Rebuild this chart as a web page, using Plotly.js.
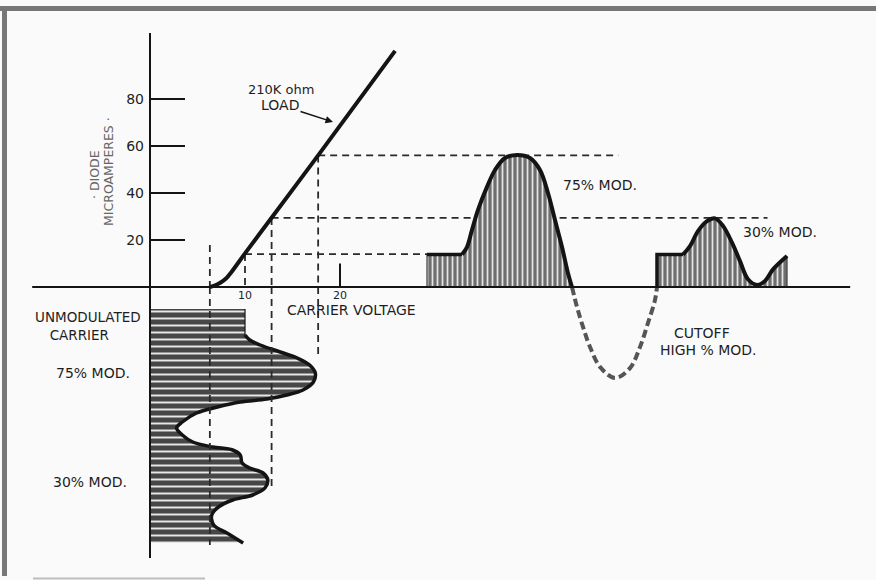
<!DOCTYPE html>
<html><head><meta charset="utf-8">
<script src="https://cdn.plot.ly/plotly-3.0.1.min.js"></script>
<style>html,body{margin:0;padding:0;background:#fafafa}</style>
</head><body><div id="chart" style="width:876px;height:580px"></div>
<script>
// ---------- DATA ----------
// Diode characteristic, 210K ohm load: carrier voltage (V) vs diode microamperes
const loadV = [6.3, 6.8, 7.4, 8.0, 8.6, 10, 12.8, 17.7, 25.8];
const loadI = [0, 0.6, 1.8, 3.6, 6.5, 14.3, 29.5, 56, 100.5];

// Projection (dashed) lines: carrier level, 30% peak, 75% peak
const projV = [10, 12.8, 17.7];
const projI = [14, 29.4, 56];
const projEndV = [29.2, 65.0, 49.3];
// Vertical dashed drops: cutoff, carrier, 30% peak, 75% peak
const dropV = [6.3, 10, 12.8, 17.7];
const dropTopI = [17.9, 14, 29.4, 56];
const dropEndTau = [47.2, null, 36.2, 9.6];

// Rectified output, 75% modulation (time t, microamperes)
const wave75T = [0, 0, 7, 8, 9, 10.2, 12, 13.6, 15.6, 18, 20.6, 22.6, 24.2, 25.6, 27, 28.2, 29];
const wave75I = [0, 13.8, 13.8, 17, 24.3, 32.8, 42.6, 49.8, 54.9, 56.2, 54.9, 49.8, 40, 28.5, 17, 5.9, 0];
// Cut-off (dashed) negative swing at high % modulation
const negT = [29, 30, 31.2, 32.6, 34.6, 37.6, 40.6, 42.6, 44.2, 45.6, 46];
const negI = [0, -8.5, -17, -25.5, -34, -38.7, -34.5, -25.5, -15.3, -5.5, 0];
// Rectified output, 30% modulation
const wave30T = [46, 46, 51.2, 52.6, 54.2, 56, 57.6, 59.2, 61, 62.6, 64.2, 66, 67.6, 69.2, 72, 72];
const wave30I = [0, 13.8, 13.8, 17.4, 23.8, 28, 29.2, 26, 18.9, 11, 3.3, 0.9, 2.6, 7.5, 13.2, 0];

// Carrier envelope (time tau downward, carrier volts)
const envTau = [0, 5.2, 6.2, 7.2, 8.6, 9.8, 11.2, 12.8, 14.6, 16.2, 17.2, 18, 18.6, 19.6, 20.8, 22.6, 23.8, 25.2, 26.6, 27.6, 28.2, 29.2, 30.8, 31.8, 32.8, 34.2, 35.8, 37.2, 38.2, 39.6, 41.2, 43.2, 44.8, 46.8];
const envV = [10, 10, 10.5, 11.6, 13.7, 15.5, 16.8, 17.4, 17.2, 16.1, 14.4, 12.3, 9.5, 7.1, 4.9, 3.4, 2.8, 3.4, 4.5, 6.6, 8.7, 9.5, 9.7, 10.5, 11.9, 12.4, 12.1, 10.8, 8.7, 7.2, 6.5, 6.7, 8.1, 9.8];

const yTicks = [20, 40, 60, 80];
const yTickText = ['20', '40', '60', '80'];
const xTicks = [10, 20];
const xTickText = ['10', '20'];

// ---------- LAYOUT GEOMETRY ----------
const W = 876, H = 580;
const ORIGIN_X = 150, PX_PER_VOLT = 9.5;
const ORIGIN_Y = 287, PX_PER_UA = 2.35;
const WAVE_T0_X = 427, PX_PER_T = 5;
const ENV_TAU0_Y = 309, PX_PER_TAU = 5;

const vRange = [-ORIGIN_X / PX_PER_VOLT, (W - ORIGIN_X) / PX_PER_VOLT];
const iRange = [-(H - ORIGIN_Y) / PX_PER_UA, ORIGIN_Y / PX_PER_UA];
const tRange = [-WAVE_T0_X / PX_PER_T, (W - WAVE_T0_X) / PX_PER_T];
const tauRange = [(H - ENV_TAU0_Y) / PX_PER_TAU, -ENV_TAU0_Y / PX_PER_TAU];
const tauAtAxis = (ORIGIN_Y - ENV_TAU0_Y) / PX_PER_TAU;

const px = x => x / W;
const py = y => 1 - y / H;
const INK = '#141414';
const FONT = 'DejaVu Sans';

const traces = [];
const slice = (a, s, e) => a.slice(s, e);

// Carrier envelope (left bottom)
traces.push({x: envV, y: envTau, xaxis: 'x', yaxis: 'y2', mode: 'lines', fill: 'tozerox',
  line: {color: INK, width: 1.2, shape: 'linear'},
  fillpattern: {shape: '-', bgcolor: '#474747', fgcolor: '#e8e8e8', size: 7, solidity: 0.28}});
traces.push({x: slice(envV, 1), y: slice(envTau, 1), xaxis: 'x', yaxis: 'y2', mode: 'lines',
  line: {color: INK, width: 3.5, shape: 'spline', smoothing: 1}});

// 75% wave
traces.push({x: wave75T, y: wave75I, xaxis: 'x2', yaxis: 'y', mode: 'lines', fill: 'tozeroy',
  line: {color: INK, width: 1, shape: 'linear'},
  fillpattern: {shape: '|', bgcolor: '#6e6e6e', fgcolor: '#e4e4e4', size: 5, solidity: 0.35}});
traces.push({x: slice(wave75T, 1, 3), y: slice(wave75I, 1, 3), xaxis: 'x2', yaxis: 'y', mode: 'lines',
  line: {color: INK, width: 3.5}});
traces.push({x: slice(wave75T, 2), y: slice(wave75I, 2), xaxis: 'x2', yaxis: 'y', mode: 'lines',
  line: {color: INK, width: 4, shape: 'spline', smoothing: 1}});
// negative (cut-off) swing
traces.push({x: negT, y: negI, xaxis: 'x2', yaxis: 'y', mode: 'lines',
  line: {color: '#555', width: 4, shape: 'spline', dash: '8px,4px'}});
// 30% wave
traces.push({x: wave30T, y: wave30I, xaxis: 'x2', yaxis: 'y', mode: 'lines', fill: 'tozeroy',
  line: {color: INK, width: 1, shape: 'linear'},
  fillpattern: {shape: '|', bgcolor: '#6e6e6e', fgcolor: '#e4e4e4', size: 5, solidity: 0.35}});
traces.push({x: slice(wave30T, 0, 3), y: slice(wave30I, 0, 3), xaxis: 'x2', yaxis: 'y', mode: 'lines',
  line: {color: INK, width: 3.5}});
traces.push({x: slice(wave30T, 2, wave30T.length - 1), y: slice(wave30I, 2, wave30I.length - 1), xaxis: 'x2', yaxis: 'y', mode: 'lines',
  line: {color: INK, width: 4, shape: 'spline', smoothing: 1}});

// Dashed projection lines
const dashLine = {color: '#2a2a2a', width: 1.8, dash: '7px,5px'};
for (let k = 0; k < projV.length; k++) {
  traces.push({x: [projV[k], projEndV[k]], y: [projI[k], projI[k]], xaxis: 'x', yaxis: 'y', mode: 'lines', line: dashLine});
}
for (let k = 0; k < dropV.length; k++) {
  traces.push({x: [dropV[k], dropV[k]], y: [dropTopI[k], 0], xaxis: 'x', yaxis: 'y', mode: 'lines', line: dashLine});
  if (dropEndTau[k] !== null) {
    traces.push({x: [dropV[k], dropV[k]], y: [tauAtAxis, dropEndTau[k]], xaxis: 'x', yaxis: 'y2', mode: 'lines', line: dashLine});
  }
}

// Load line
traces.push({x: loadV, y: loadI, xaxis: 'x', yaxis: 'y', mode: 'lines',
  line: {color: INK, width: 4, shape: 'spline', smoothing: 0.6}});

const hidden = {showgrid: false, zeroline: false, showline: false, showticklabels: false, ticks: '', fixedrange: true};

const ann = (text, x, y, size, extra) => Object.assign({
  text, xref: 'paper', yref: 'paper', x: px(x), y: py(y), xanchor: 'center', yanchor: 'middle',
  showarrow: false, font: {family: FONT, size: size, color: '#1e1e1e'}
}, extra || {});

const layout = {
  width: W, height: H,
  margin: {l: 0, r: 0, t: 0, b: 0},
  paper_bgcolor: '#fafafa', plot_bgcolor: '#fafafa',
  showlegend: false, hovermode: false,
  xaxis: {range: vRange, showgrid: false, zeroline: false, showline: false, fixedrange: true,
    anchor: 'free', position: py(ORIGIN_Y), tickmode: 'array', tickvals: xTicks, ticktext: xTickText,
    ticks: '', tickfont: {family: FONT, size: 11, color: '#1e1e1e'}},
  yaxis: {range: iRange, showgrid: false, zeroline: false, showline: false, fixedrange: true,
    anchor: 'free', position: px(ORIGIN_X), tickmode: 'array', tickvals: yTicks, ticktext: yTickText,
    ticks: 'inside', ticklen: 34, tickwidth: 2, tickcolor: INK, ticklabelstandoff: 6,
    tickfont: {family: FONT, size: 14, color: '#1e1e1e'}},
  xaxis2: Object.assign({range: tRange, overlaying: 'x', anchor: 'y'}, hidden),
  yaxis2: Object.assign({range: tauRange, overlaying: 'y', anchor: 'x'}, hidden),
  shapes: [
    // axes
    {type: 'line', xref: 'x', yref: 'y', x0: -12.4, x1: 73.7, y0: 0, y1: 0, line: {color: INK, width: 2}},
    {type: 'line', xref: 'x', yref: 'paper', x0: 0, x1: 0, y0: py(33), y1: py(558), line: {color: INK, width: 2}},
    {type: 'line', xref: 'x', yref: 'y', x0: 20, x1: 20, y0: 0, y1: 10, line: {color: INK, width: 2}},
    // frame
    {type: 'line', xref: 'paper', yref: 'paper', x0: 0, x1: 1, y0: py(8.5), y1: py(8.5), line: {color: '#777', width: 5}},
    {type: 'line', xref: 'paper', yref: 'paper', x0: px(4.5), x1: px(4.5), y0: py(6), y1: py(576), line: {color: '#777', width: 5}},
    {type: 'line', xref: 'paper', yref: 'paper', x0: px(33), x1: px(205), y0: py(578.5), y1: py(578.5), line: {color: '#bdbdbd', width: 2}}
  ],
  annotations: [
    ann('210K ohm', 281, 89, 13),
    ann('LOAD', 333, 122, 14, {showarrow: true, ax: -53, ay: -17, arrowhead: 2, arrowsize: 1, arrowwidth: 1.5, arrowcolor: INK}),
    ann('· DIODE', 94, 175, 12.5, {textangle: -90, font: {family: FONT, size: 12.5, color: '#666'}}),
    ann('MICROAMPERES ·', 109, 172, 12.5, {textangle: -90, font: {family: FONT, size: 12.5, color: '#666'}}),
    ann('CARRIER VOLTAGE', 351, 310, 14),
    ann('UNMODULATED<br>CARRIER\u00a0\u00a0\u00a0\u00a0', 88, 326, 13.5),
    ann('75% MOD.', 93, 373, 14),
    ann('30% MOD.', 90, 482, 14),
    ann('75% MOD.', 600, 185, 14),
    ann('30% MOD.', 780, 232, 14),
    ann('CUTOFF', 702, 333, 14),
    ann('HIGH % MOD.', 708, 350, 14)
  ]
};

Plotly.newPlot('chart', traces, layout, {staticPlot: true, displayModeBar: false});
</script>
</body></html>
